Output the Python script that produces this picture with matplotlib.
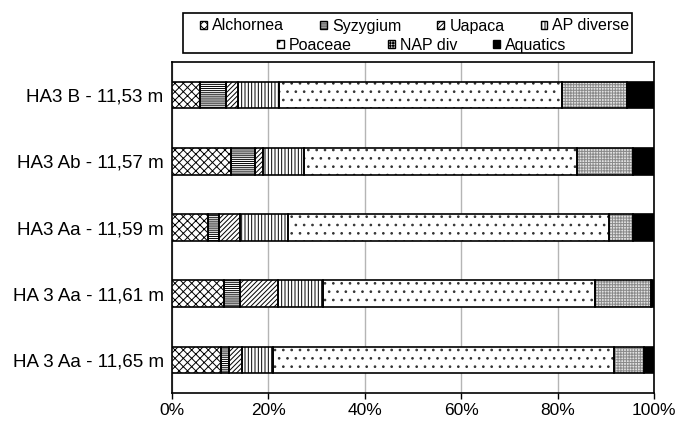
import matplotlib.pyplot as plt
from matplotlib import ticker
from matplotlib.patches import Patch, Rectangle
import numpy as np

plt.rcParams['font.family'] = ['Liberation Sans', 'DejaVu Sans']
plt.rcParams['hatch.linewidth'] = 0.7

samples = ["HA3 B - 11,53 m", "HA3 Ab - 11,57 m", "HA3 Aa - 11,59 m",
           "HA 3 Aa - 11,61 m", "HA 3 Aa - 11,65 m"]

# percentages per taxon group, one value per sample (top to bottom)
alchornea = [5.8, 12.2, 7.5, 10.8, 10.1]
syzygium = [5.3, 5.1, 2.2, 3.3, 1.7]
uapaca = [2.5, 1.5, 4.5, 7.8, 2.8]
ap_diverse = [8.7, 8.6, 9.9, 9.5, 6.3]
poaceae = [58.7, 56.7, 66.6, 56.4, 70.9]
nap_div = [13.5, 11.5, 4.9, 11.5, 6.2]
aquatics = [5.5, 4.4, 4.4, 0.7, 2.0]

# name, values, face, hatch, hatch colour
series = [
    ("Alchornea", alchornea, "white", "xxxx", "black"),
    ("Syzygium", syzygium, "white", "--------", "black"),
    ("Uapaca", uapaca, "white", "///////", "black"),
    ("AP diverse", ap_diverse, "white", "|||||", "black"),
    ("Poaceae", poaceae, "white", "..", "#333333"),
    ("NAP div", nap_div, "#e2e2e2", "++++++", "#8a8a8a"),
    ("Aquatics", aquatics, "black", None, "black"),
]

fig = plt.figure(figsize=(6.78, 4.21), dpi=100)
ax = fig.add_axes([0.2537, 0.0665, 0.9646 - 0.2537, 0.8527 - 0.0665])

y = np.arange(len(samples))
left = np.zeros(len(samples))
handles = {}
for name, vals, fc, hatch, hc in series:
    vals = np.array(vals)
    # hatch layer drawn in its own colour, black outline on top
    ax.barh(y, vals, left=left, height=0.4, color=fc, edgecolor=hc,
            hatch=hatch, linewidth=0, zorder=3)
    ax.barh(y, vals, left=left, height=0.4, fill=False, edgecolor="black",
            linewidth=1.2, zorder=4)
    handles[name] = Patch(facecolor=fc, edgecolor="black", hatch=hatch, linewidth=1.0)
    left += vals

ax.set_xlim(0, 100)
ax.set_ylim(len(samples) - 0.5, -0.5)
ax.set_yticks(y)
ax.set_yticklabels(samples, fontsize=13.5)
ax.xaxis.set_major_locator(ticker.MultipleLocator(20))
ax.xaxis.set_major_formatter(ticker.FuncFormatter(lambda v, p: f"{int(v)}%"))
ax.tick_params(axis="x", labelsize=12.5, direction="out", length=4, width=1)
ax.tick_params(axis="y", length=0, pad=6)
ax.grid(axis="x", color="#b5b5b5", linewidth=1, zorder=0)
for s in ax.spines.values():
    s.set_linewidth(1.2)

row1 = ["Alchornea", "Syzygium", "Uapaca", "AP diverse"]
row2 = ["Poaceae", "NAP div", "Aquatics"]
leg_kw = dict(frameon=False, fontsize=11.5, handlelength=0.4, handleheight=0.4,
              handletextpad=0.35, columnspacing=2.25, borderaxespad=0, borderpad=0)
leg1 = fig.legend([handles[n] for n in row1], row1, ncol=4,
                  loc="center", bbox_to_anchor=(415 / 678, 1 - 26 / 421), **leg_kw)
leg2 = fig.legend([handles[n] for n in row2], row2, ncol=3,
                  loc="center", bbox_to_anchor=(422 / 678, 1 - 45.5 / 421), **leg_kw)
fig.add_artist(Rectangle((183 / 678, 1 - 53 / 421), (632 - 183) / 678, 40 / 421,
                         transform=fig.transFigure, fill=False, edgecolor="black", linewidth=1.2))

fig.savefig("out.png", dpi=100)
